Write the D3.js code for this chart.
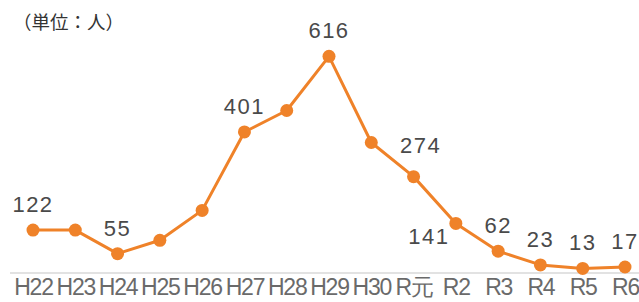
<!DOCTYPE html>
<html>
<head>
<meta charset="utf-8">
<script src="https://cdn.jsdelivr.net/npm/d3@7"></script>
<style>
  html, body { margin: 0; padding: 0; background: #fff; }
  svg { display: block; }
</style>
</head>
<body>
<div id="chart"></div>
<script>
// Data
const categories = ['H22', 'H23', 'H24', 'H25', 'H26', 'H27', 'H28', 'H29', 'H30', 'R元', 'R2', 'R3', 'R4', 'R5', 'R6'];
const values = [122, 122, 55, 93, 178, 401, 462, 616, 371, 274, 141, 62, 23, 13, 17];
// which points carry a value label
const labeled = [true, false, true, false, false, true, false, true, false, true, true, true, true, true, true];

// label placement relative to the point (styling, not data)
const labelOffset = {
  'R元': [7, -24],
  'R2': [-27, 21]
};

const width = 639;
const height = 302;
const orange = '#ef8229';

const svg = d3.select('#chart').append('svg')
  .attr('width', width)
  .attr('height', height);

const x = d3.scalePoint()
  .domain(categories)
  .range([33, 625]);

const y = d3.scaleLinear()
  .domain([0, 700])
  .range([273, 26.8]);

// Unit caption
svg.append('text')
  .attr('x', 13)
  .attr('y', 29)
  .attr('font-family', '"Noto Sans CJK JP", sans-serif')
  .attr('font-size', 18.5)
  .attr('fill', '#333')
  .text('（単位：人）');

// Baseline
svg.append('line')
  .attr('x1', 10)
  .attr('x2', width)
  .attr('y1', y(0))
  .attr('y2', y(0))
  .attr('stroke', '#e2e2e2')
  .attr('stroke-width', 2);

// Category labels
const xAxis = svg.append('g')
  .attr('transform', `translate(0,${y(0) + 4})`)
  .call(d3.axisBottom(x).tickSize(0).tickPadding(0));
xAxis.select('.domain').remove();
xAxis.selectAll('text')
  .attr('dy', null)
  .attr('y', 18)
  .attr('font-family', '"Liberation Sans", Arial, sans-serif')
  .attr('font-size', 23)
  .attr('letter-spacing', -1.2)
  .attr('fill', '#6a6a6a');

// Line
const line = d3.line()
  .x((d, i) => x(categories[i]))
  .y(d => y(d));

svg.append('path')
  .datum(values)
  .attr('fill', 'none')
  .attr('stroke', orange)
  .attr('stroke-width', 3)
  .attr('stroke-linejoin', 'round')
  .attr('d', line);

// Markers
svg.selectAll('circle.pt')
  .data(values)
  .join('circle')
  .attr('class', 'pt')
  .attr('cx', (d, i) => x(categories[i]))
  .attr('cy', d => y(d))
  .attr('r', 6.5)
  .attr('fill', orange);

// Value labels
svg.selectAll('text.val')
  .data(values.map((v, i) => ({ v, c: categories[i] })).filter((d, i) => labeled[i]))
  .join('text')
  .attr('class', 'val')
  .attr('x', d => x(d.c) + (labelOffset[d.c] ? labelOffset[d.c][0] : 0))
  .attr('y', d => y(d.v) + (labelOffset[d.c] ? labelOffset[d.c][1] : -18))
  .attr('text-anchor', 'middle')
  .attr('font-family', '"Liberation Sans", Arial, sans-serif')
  .attr('font-size', 22)
  .attr('letter-spacing', 1.5)
  .attr('fill', '#4a4a4a')
  .text(d => d.v);
</script>
</body>
</html>
